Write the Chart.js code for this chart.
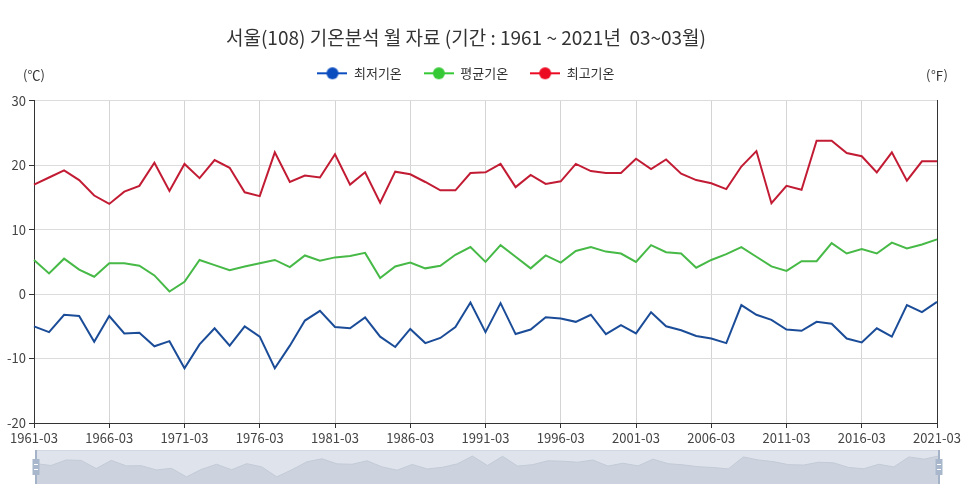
<!DOCTYPE html>
<html><head><meta charset="utf-8">
<script src="https://cdn.jsdelivr.net/npm/chart.js@4.4.0/dist/chart.umd.min.js"></script>
<style>
html,body{margin:0;padding:0;background:#fff;overflow:hidden;width:970px;height:493px;position:relative;}
#main{position:absolute;left:-38px;top:0;width:1008px;height:447px;}
#zoom{position:absolute;left:30px;top:448px;width:916px;height:38px;}
</style></head><body>
<div id="main"><canvas id="c1"></canvas></div>
<div id="zoom"><canvas id="c2"></canvas></div>
<script>
const categories = ['1961-03','1962-03','1963-03','1964-03','1965-03','1966-03','1967-03','1968-03','1969-03','1970-03',
'1971-03','1972-03','1973-03','1974-03','1975-03','1976-03','1977-03','1978-03','1979-03','1980-03',
'1981-03','1982-03','1983-03','1984-03','1985-03','1986-03','1987-03','1988-03','1989-03','1990-03',
'1991-03','1992-03','1993-03','1994-03','1995-03','1996-03','1997-03','1998-03','1999-03','2000-03',
'2001-03','2002-03','2003-03','2004-03','2005-03','2006-03','2007-03','2008-03','2009-03','2010-03',
'2011-03','2012-03','2013-03','2014-03','2015-03','2016-03','2017-03','2018-03','2019-03','2020-03',
'2021-03'];
const minTemp = [-5.0,-5.9,-3.2,-3.4,-7.4,-3.4,-6.1,-6.0,-8.1,-7.3,
-11.5,-7.8,-5.3,-8.0,-5.0,-6.6,-11.5,-8.0,-4.1,-2.6,
-5.1,-5.3,-3.6,-6.6,-8.2,-5.4,-7.6,-6.8,-5.1,-1.3,
-5.9,-1.4,-6.2,-5.5,-3.6,-3.8,-4.3,-3.2,-6.2,-4.8,
-6.1,-2.8,-5.0,-5.6,-6.5,-6.9,-7.6,-1.7,-3.2,-4.0,
-5.5,-5.7,-4.3,-4.6,-6.9,-7.5,-5.3,-6.6,-1.7,-2.8,
-1.2];
const avgTemp = [5.3,3.2,5.5,3.8,2.7,4.8,4.8,4.4,2.9,0.4,
1.9,5.3,4.5,3.7,4.3,4.8,5.3,4.2,6.0,5.2,
5.7,5.9,6.4,2.5,4.3,4.9,4.0,4.4,6.1,7.3,
5.0,7.6,5.8,4.0,6.0,4.9,6.7,7.3,6.6,6.3,
5.0,7.6,6.5,6.3,4.1,5.3,6.2,7.3,5.8,4.3,
3.6,5.1,5.1,7.9,6.3,7.0,6.3,8.0,7.1,7.7,
8.5];
const maxTemp = [17.0,18.1,19.2,17.7,15.3,14.0,15.9,16.8,20.4,16.0,
20.2,18.0,20.8,19.6,15.8,15.2,22.0,17.4,18.4,18.1,
21.7,17.0,18.9,14.2,19.0,18.6,17.4,16.1,16.1,18.8,
18.9,20.2,16.6,18.5,17.1,17.5,20.2,19.1,18.8,18.8,
21.0,19.4,20.9,18.7,17.7,17.2,16.3,19.8,22.2,14.1,
16.8,16.2,23.8,23.8,21.9,21.4,18.9,22.0,17.6,20.6,
20.6];
const seriesNames = ['최저기온','평균기온','최고기온'];
const yTickValues = [-20,-10,0,10,20,30];
const titleText = '서울(108) 기온분석 월 자료 (기간 : 1961 ~ 2021년  03~03월)';
const unitLeft = '(℃)';
const unitRight = '(℉)';

const FONT = "'Noto Sans CJK KR', 'Noto Sans', sans-serif";
const lineColors = ['#1b4c98', '#46b946', '#c21b34'];
const markerColors = ['#0b4cbf', '#36c936', '#ec0a22'];

function legendIcon(color){
  const c = document.createElement('canvas');
  c.width = 30; c.height = 14;
  const g = c.getContext('2d');
  g.strokeStyle = color; g.lineWidth = 2;
  g.beginPath(); g.moveTo(0,7); g.lineTo(30,7); g.stroke();
  g.fillStyle = color;
  g.beginPath(); g.arc(15,7,6,0,Math.PI*2); g.fill();
  return c;
}
const icons = markerColors.map(legendIcon);

const unitPlugin = {
  id: 'units',
  afterDraw(chart){
    const ctx = chart.ctx, a = chart.chartArea;
    ctx.save();
    ctx.font = '13px ' + FONT;
    ctx.fillStyle = '#333';
    ctx.textAlign = 'center';
    ctx.textBaseline = 'middle';
    ctx.fillText(unitLeft, a.left, 75);
    ctx.fillText(unitRight, a.right, 75);
    ctx.restore();
  }
};

new Chart(document.getElementById('c1'), {
  type: 'line',
  data: {
    labels: categories,
    datasets: [minTemp, avgTemp, maxTemp].map((d,i)=>({
      label: seriesNames[i],
      data: d,
      borderColor: lineColors[i],
      backgroundColor: markerColors[i],
      borderWidth: 2,
      pointRadius: 0,
      pointHoverRadius: 0,
      tension: 0,
      fill: false
    }))
  },
  options: {
    responsive: true,
    maintainAspectRatio: false,
    animation: false,
    devicePixelRatio: 1,
    layout: { padding: { top: 0, left: 0, right: 0, bottom: 0 } },
    plugins: {
      tooltip: { enabled: false },
      title: {
        display: true,
        text: titleText,
        color: '#333',
        font: { family: FONT, size: 19, weight: 'normal' },
        padding: { top: 26, bottom: -4 }
      },
      legend: {
        position: 'top',
        labels: {
          usePointStyle: true,
          pointStyleWidth: 30,
          boxHeight: 13,
          padding: 22,
          color: '#333',
          font: { family: FONT, size: 13 },
          generateLabels(chart){
            const items = Chart.defaults.plugins.legend.labels.generateLabels(chart);
            items.forEach((it,i)=>{ it.pointStyle = icons[i]; it.fontColor = '#333'; });
            return items;
          }
        }
      }
    },
    scales: {
      x: {
        type: 'category',
        offset: false,
        grid: { color: '#d4d4d4', tickColor: '#333', tickLength: 5 },
        border: { color: '#333', width: 1 },
        ticks: {
          autoSkip: false, maxRotation: 0, minRotation: 0, padding: 2,
          color: '#444', font: { family: FONT, size: 13 },
          callback: (v,i) => (i % 5 === 0 ? categories[i] : null)
        },
        afterFit: s => { s.height = 24; }
      },
      xTop: {
        type: 'category',
        position: 'top',
        offset: false,
        grid: { display: false, drawTicks: false },
        border: { display: false },
        ticks: { display: false },
        afterFit: s => { s.height = 11; }
      },
      y: {
        position: 'left',
        min: yTickValues[0], max: yTickValues[yTickValues.length-1],
        grid: { color: '#dcdcdc', tickColor: '#333', tickLength: 5 },
        border: { color: '#333', width: 1 },
        ticks: { stepSize: 10, padding: 3, color: '#444', font: { family: FONT, size: 13 } },
        afterFit: s => { s.width = 72; }
      },
      y2: {
        position: 'right',
        min: yTickValues[0], max: yTickValues[yTickValues.length-1],
        grid: { drawOnChartArea: false, drawTicks: false },
        border: { color: '#333', width: 1 },
        ticks: { display: false },
        afterFit: s => { s.width = 33; }
      }
    }
  },
  plugins: [unitPlugin]
});

const sliderPlugin = {
  id: 'sliderDeco',
  beforeDraw(chart){
    const ctx = chart.ctx, a = chart.chartArea;
    ctx.save();
    ctx.fillStyle = '#dfe4ec';
    ctx.fillRect(a.left, a.top, a.right - a.left, a.bottom - a.top);
    ctx.strokeStyle = '#d2d8e1';
    ctx.lineWidth = 1;
    ctx.strokeRect(a.left + 0.5, a.top + 0.5, a.right - a.left - 1, a.bottom - a.top - 1);
    ctx.restore();
  },
  afterDraw(chart){
    const ctx = chart.ctx, a = chart.chartArea;
    ctx.save();
    [a.left, a.right].forEach(x => {
      ctx.fillStyle = '#a4b3c8';
      ctx.fillRect(x - 1, a.top, 2, a.bottom - a.top);
      const hy = a.top + 9, hh = 16;
      ctx.fillStyle = '#a8b7cc';
      ctx.fillRect(x - 3.5, hy, 7, hh);
      ctx.fillStyle = '#ffffff';
      ctx.fillRect(x - 2, hy + 5, 4, 1);
      ctx.fillRect(x - 2, hy + 10, 4, 1);
    });
    ctx.restore();
  }
};

new Chart(document.getElementById('c2'), {
  type: 'line',
  data: {
    labels: categories,
    datasets: [{
      data: minTemp,
      borderColor: '#c3cad6',
      backgroundColor: '#ccd3de',
      borderWidth: 1,
      pointRadius: 0,
      tension: 0,
      fill: 'start'
    }]
  },
  options: {
    responsive: true,
    maintainAspectRatio: false,
    animation: false,
    devicePixelRatio: 1,
    layout: { padding: { left: 6, right: 7, top: 2, bottom: 2 } },
    plugins: { legend: { display: false }, title: { display: false }, tooltip: { enabled: false } },
    scales: {
      x: { display: false, offset: false },
      y: { display: false, min: -15, max: 1.7 }
    }
  },
  plugins: [sliderPlugin]
});
</script>
</body></html>
